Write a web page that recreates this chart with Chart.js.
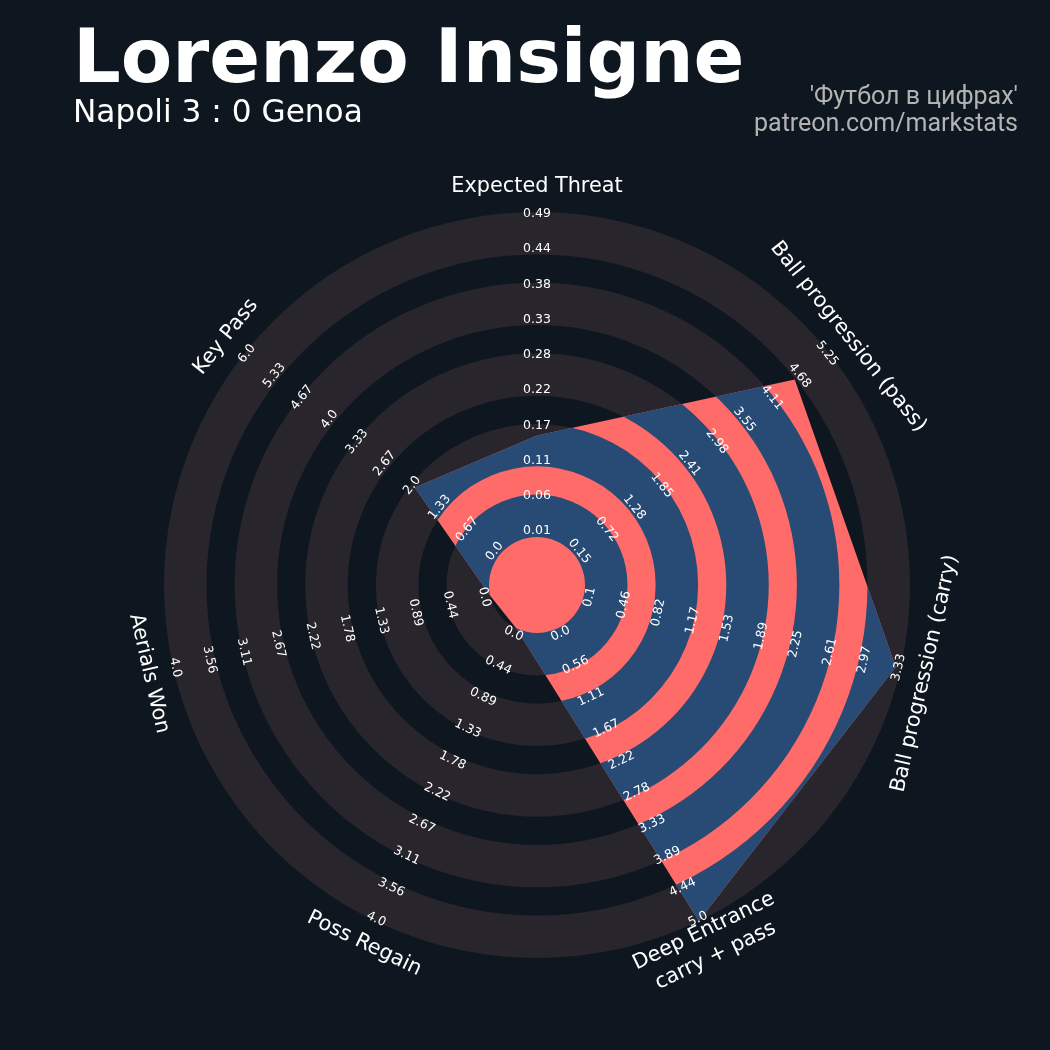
<!DOCTYPE html>
<html><head><meta charset="utf-8">
<script src="https://cdn.jsdelivr.net/npm/chart.js@4.4.1/dist/chart.umd.min.js"></script>
<style>
html,body{margin:0;padding:0;background:#0e1720;}
#wrap{position:relative;width:1050px;height:1050px;overflow:hidden;}
#c{position:absolute;left:0;top:0;}
.t{position:absolute;white-space:nowrap;}
</style></head><body>
<div id="wrap">
<canvas id="c" width="1050" height="1050"></canvas>
<div class="t" style="left:73px;top:19px;font:bold 75px 'DejaVu Sans';line-height:75px;color:#ffffff;">Lorenzo Insigne</div>
<div class="t" style="left:73px;top:96px;font:31.2px 'DejaVu Sans';line-height:31.2px;color:#ffffff;">Napoli 3 : 0 Genoa</div>
<div class="t" style="right:32px;top:83px;font:25px Roboto;line-height:25px;color:#b3b3b3;text-align:right;">'Футбол в цифрах'</div>
<div class="t" style="right:32px;top:110px;font:25px Roboto;line-height:25px;color:#b3b3b3;text-align:right;">patreon.com/markstats</div>
</div>
<script>
// ---- data ----
const params = ['Expected Threat', 'Ball progression (pass)', 'Ball progression (carry)',
  ['Deep Entrance', 'carry + pass'], 'Poss Regain', 'Aerials Won', 'Key Pass'];
const lows  = [0.01, 0.15, 0.1, 0.0, 0.0, 0.0, 0.0];
const highs = [0.49, 5.25, 3.33, 5.0, 4.0, 4.0, 6.0];
const values = [0.16, 4.57, 3.28, 5.0, 0.0, 0.0, 2.0];
const ticksXT      = ['0.01','0.06','0.11','0.17','0.22','0.28','0.33','0.38','0.44','0.49'];
const ticksBPpass  = ['0.15','0.72','1.28','1.85','2.41','2.98','3.55','4.11','4.68','5.25'];
const ticksBPcarry = ['0.1','0.46','0.82','1.17','1.53','1.89','2.25','2.61','2.97','3.33'];
const ticksDeep    = ['0.0','0.56','1.11','1.67','2.22','2.78','3.33','3.89','4.44','5.0'];
const ticksPoss    = ['0.0','0.44','0.89','1.33','1.78','2.22','2.67','3.11','3.56','4.0'];
const ticksAerial  = ['0.0','0.44','0.89','1.33','1.78','2.22','2.67','3.11','3.56','4.0'];
const ticksKeyPass = ['0.0','0.67','1.33','2.0','2.67','3.33','4.0','4.67','5.33','6.0'];
const tickLabels = [ticksXT, ticksBPpass, ticksBPcarry, ticksDeep, ticksPoss, ticksAerial, ticksKeyPass];

// ---- style ----
const BG = '#0e1720', GREY = '#29252c', RED = '#ff6b68', BLUE = '#274b74';
const R_CENTER = 48;          // px radius of centre circle
const RING_RATIO = 1.51;      // ring width relative to gap width
const N_RINGS = 5;

const normalized = values.map((v, i) => (v - lows[i]) / (highs[i] - lows[i]));

function ringEdges(scale) {
  const rOut = scale.drawingArea;
  const gap = (rOut - R_CENTER) / (N_RINGS * RING_RATIO + (N_RINGS - 1));
  const ring = gap * RING_RATIO;
  const edges = [];
  let r = R_CENTER;
  for (let k = 0; k < N_RINGS; k++) { edges.push([r, r + ring]); r += ring + gap; }
  return edges;
}
function drawRings(ctx, scale, color) {
  const cx = scale.xCenter, cy = scale.yCenter;
  ctx.fillStyle = color;
  for (const [a, b] of ringEdges(scale)) {
    ctx.beginPath();
    ctx.arc(cx, cy, b, 0, Math.PI * 2, false);
    ctx.moveTo(cx + a, cy);
    ctx.arc(cx, cy, a, 0, Math.PI * 2, true);
    ctx.fill();
  }
}
function textRot(i, scale) {
  const b = scale.getIndexAngle(i);
  if (b > Math.PI / 2 && b < Math.PI * 1.5) return b - Math.PI;
  return b;
}

const radarPlugin = {
  id: 'radarDecor',
  beforeDraw(chart) {
    const ctx = chart.ctx, scale = chart.scales.r;
    ctx.save();
    ctx.fillStyle = BG;
    ctx.fillRect(0, 0, chart.width, chart.height);
    drawRings(ctx, scale, GREY);
    ctx.restore();
  },
  afterDatasetsDraw(chart) {
    const ctx = chart.ctx, scale = chart.scales.r;
    const pts = chart.getDatasetMeta(0).data;
    ctx.save();
    ctx.beginPath();
    pts.forEach((p, i) => i ? ctx.lineTo(p.x, p.y) : ctx.moveTo(p.x, p.y));
    ctx.closePath();
    ctx.clip();
    drawRings(ctx, scale, BLUE);
    ctx.restore();
  },
  afterDraw(chart) {
    const ctx = chart.ctx, scale = chart.scales.r;
    ctx.save();
    ctx.fillStyle = '#ffffff';
    ctx.textAlign = 'center';
    ctx.textBaseline = 'middle';
    // range labels
    ctx.font = '12.5px "DejaVu Sans"';
    const d0 = scale.getDistanceFromCenterForValue(0) + 6;
    const d1 = scale.getDistanceFromCenterForValue(1) - 2;
    tickLabels.forEach((labels, i) => {
      const rot = textRot(i, scale);
      labels.forEach((lab, k) => {
        const d = d0 + (d1 - d0) * k / (labels.length - 1);
        const p = scale.getPointPosition(i, d);
        ctx.save();
        ctx.translate(p.x, p.y);
        ctx.rotate(rot);
        ctx.fillText(lab, 0, 0);
        ctx.restore();
      });
    });
    // parameter labels
    ctx.font = '20.8px "DejaVu Sans"';
    const dLab = scale.drawingArea + 25;
    params.forEach((name, i) => {
      const rot = textRot(i, scale);
      const p = scale.getPointPosition(i, dLab);
      const lines = Array.isArray(name) ? name : [name];
      const lh = 27;
      ctx.save();
      ctx.translate(p.x, p.y);
      ctx.rotate(rot);
      lines.forEach((ln, j) => {
        ctx.fillText(ln, 0, (j - (lines.length - 1) / 2) * lh);
      });
      ctx.restore();
    });
    ctx.restore();
  }
};

new Chart(document.getElementById('c'), {
  type: 'radar',
  data: {
    labels: params,
    datasets: [{
      data: normalized,
      fill: 'start',
      backgroundColor: RED,
      borderColor: 'rgba(0,0,0,0)',
      borderWidth: 0,
      pointRadius: 0,
      pointHoverRadius: 0,
      tension: 0
    }]
  },
  options: {
    responsive: false,
    animation: false,
    events: [],
    layout: { padding: { left: 164, top: 212, right: 140, bottom: 92 } },
    plugins: { legend: { display: false }, tooltip: { enabled: false }, title: { display: false } },
    scales: {
      r: {
        min: -R_CENTER / (373 - R_CENTER),
        max: 1,
        startAngle: 0,
        grid: { display: false },
        angleLines: { display: false },
        ticks: { display: false },
        pointLabels: { display: false }
      }
    }
  },
  plugins: [radarPlugin]
});
</script>
</body></html>
